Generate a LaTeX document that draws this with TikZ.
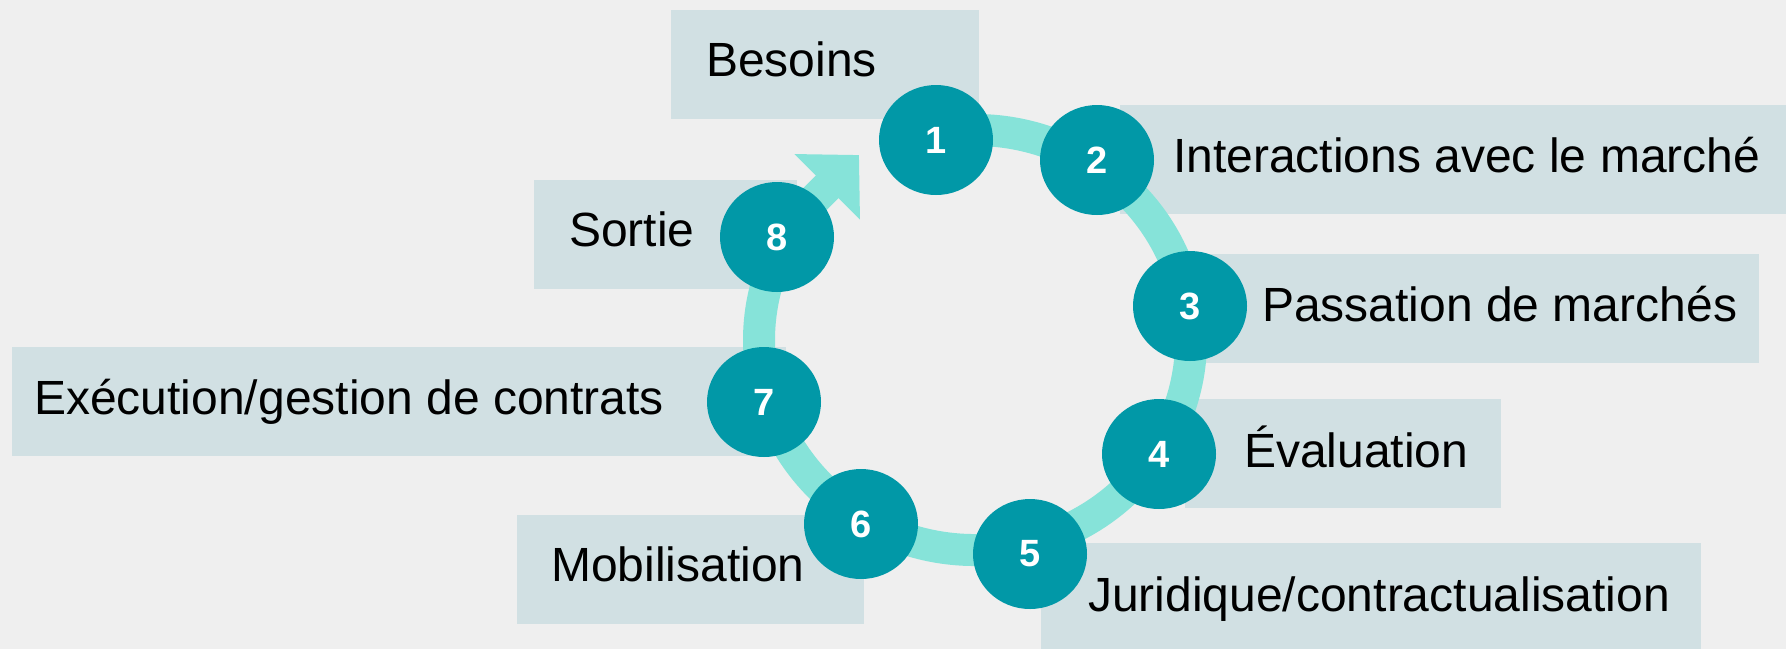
\documentclass[tikz,border=0pt]{standalone}
\usepackage{fontspec}
\setmainfont{Liberation Sans}
\usepackage{xcolor}
\usetikzlibrary{shapes.geometric,arrows.meta}
\definecolor{bgcol}{HTML}{EFEFEF}
\definecolor{boxcol}{HTML}{D1E0E3}
\definecolor{discol}{HTML}{0198A7}
\definecolor{ringcol}{HTML}{86E3D9}
\tikzset{
    labelbox/.style = {fill=boxcol, rectangle, inner sep=0pt, minimum height=109pt, anchor=north west},
    labeltext/.style = {inner sep=0pt, anchor=base west, font=\fontsize{48}{57}\selectfont},
    stepdisc/.style = {fill=discol, ellipse, inner sep=0pt, minimum width=114pt, minimum height=110pt, text=white, font=\fontsize{38}{46}\selectfont\bfseries},
    ring/.style = {draw=ringcol, line width=32pt},
}

\begin{document}
\begin{tikzpicture}[x=1pt, y=-1pt]
\fill[bgcol] (0,0) rectangle (1786,649);
\useasboundingbox (0,0) rectangle (1786,649);

% boxes
\node[labelbox, minimum width=308pt] (box1) at (671,10) {};
\node[labelbox, minimum width=666pt] (box2) at (1120,105) {};
\node[labelbox, minimum width=559pt] (box3) at (1200,254) {};
\node[labelbox, minimum width=316pt] (box4) at (1185,399) {};
\node[labelbox, minimum width=660pt, minimum height=106pt] (box5) at (1041,543) {};
\node[labelbox, minimum width=347pt] (box6) at (517,515) {};
\node[labelbox, minimum width=774pt] (box7) at (12,347) {};
\node[labelbox, minimum width=263pt] (box8) at (534,180) {};

% texts
\node[labeltext] (txt1) at (706,76) {Besoins};
\node[labeltext] (txt2) at (1173,172) {Interactions avec le marché};
\node[labeltext] (txt3) at (1262,321) {Passation de marchés};
\node[labeltext] (txt4) at (1244,467) {Évaluation};
\node[labeltext] (txt5) at (1088,611) {Juridique/contractualisation};
\node[labeltext] (txt6) at (551,581) {Mobilisation};
\node[labeltext] (txt7) at (34,414) {Exécution/gestion de contrats};
\node[labeltext] (txt8) at (569,246) {Sortie};

% cycle
\coordinate (ringc) at (975,340);
\coordinate (c8) at (777,237);
\coordinate (arrowtip) at (859,155);
\draw[ring] ([shift={(-100:216 and 210)}]ringc) arc[start angle=-100, end angle=208, x radius=216, y radius=210];
\draw[ring, -{Triangle[width=90pt, length=45pt]}] (c8) -- (arrowtip);

% steps
\node[stepdisc] (s1) at (936,140) {1};
\node[stepdisc] (s2) at (1097,160) {2};
\node[stepdisc] (s3) at (1190,306) {3};
\node[stepdisc] (s4) at (1159,454) {4};
\node[stepdisc] (s5) at (1030,554) {5};
\node[stepdisc] (s6) at (861,524) {6};
\node[stepdisc] (s7) at (764,402) {7};
\node[stepdisc] (s8) at (c8) {8};
\end{tikzpicture}
\end{document}
